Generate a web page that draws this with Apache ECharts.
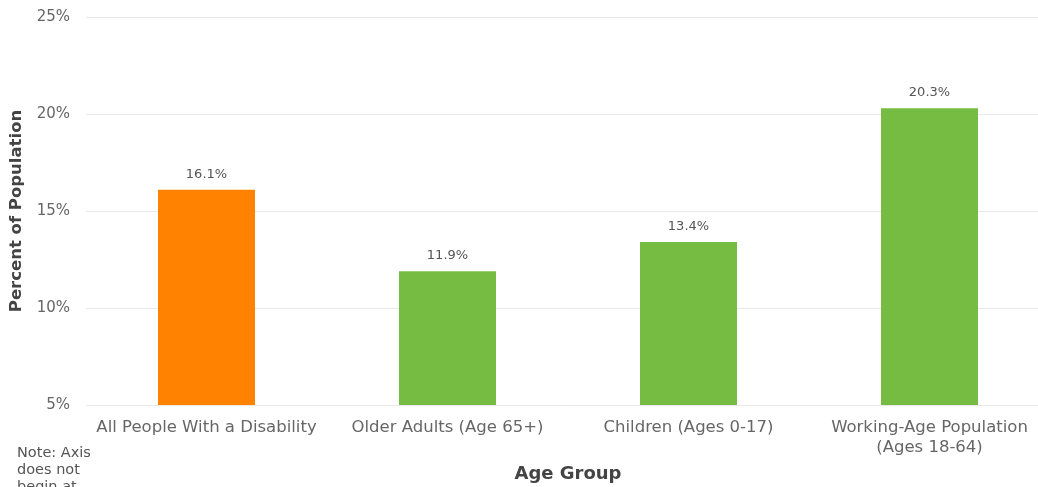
<!DOCTYPE html>
<html>
<head>
<meta charset="utf-8">
<script src="https://cdn.jsdelivr.net/npm/echarts@6/dist/echarts.min.js"></script>
<style>
html,body{margin:0;padding:0;background:#fff;}
#chart{width:1038px;height:487px;}
</style>
</head>
<body>
<div id="chart"></div>
<script>
var categories = ['All People With a Disability', 'Older Adults (Age 65+)', 'Children (Ages 0-17)', 'Working-Age Population\n(Ages 18-64)'];
var values = [16.1, 11.9, 13.4, 20.3];
var barColors = ['#FF8200', '#76BC43', '#76BC43', '#76BC43'];
var yTicks = [5, 10, 15, 20, 25];

var chart = echarts.init(document.getElementById('chart'));
var wide = '"DejaVu Sans", sans-serif';
chart.setOption({
  animation: false,
  grid: {left: 86, top: 17, width: 964, height: 388, containLabel: false, outerBoundsMode: 'none'},
  xAxis: {
    type: 'category',
    data: categories,
    axisLine: {show: false},
    axisTick: {show: false},
    axisLabel: {color: '#666', fontSize: 16.5, fontFamily: wide, margin: 13, lineHeight: 20, interval: 0, hideOverlap: false},
    name: 'Age Group',
    nameLocation: 'middle',
    nameGap: 60,
    nameTextStyle: {color: '#444', fontSize: 18, fontFamily: wide, fontWeight: 'bold'}
  },
  yAxis: {
    type: 'value',
    min: yTicks[0], max: yTicks[yTicks.length - 1], interval: 5,
    axisLine: {show: false},
    axisTick: {show: false},
    splitLine: {lineStyle: {color: '#e8e8e8', width: 1}},
    axisLabel: {color: '#666', fontSize: 15, fontFamily: wide, margin: 16, formatter: '{value}%'},
    name: 'Percent of Population',
    nameLocation: 'middle',
    nameGap: 61,
    nameTextStyle: {color: '#444', fontSize: 16.5, fontFamily: wide, fontWeight: 'bold'}
  },
  series: [{
    type: 'bar',
    barWidth: 97,
    data: values.map(function (v, i) { return {value: v, itemStyle: {color: barColors[i]}}; }),
    label: {show: true, position: 'top', distance: 9, color: '#555', fontSize: 13, fontFamily: wide, formatter: function (p) { return p.value.toFixed(1) + '%'; }}
  }],
  graphic: [{
    type: 'text', left: 17, top: 445,
    style: {text: 'Note: Axis\ndoes not\nbegin at\nzero.', fill: '#555', font: '14.5px ' + wide, lineHeight: 17}
  }]
});
</script>
</body>
</html>
